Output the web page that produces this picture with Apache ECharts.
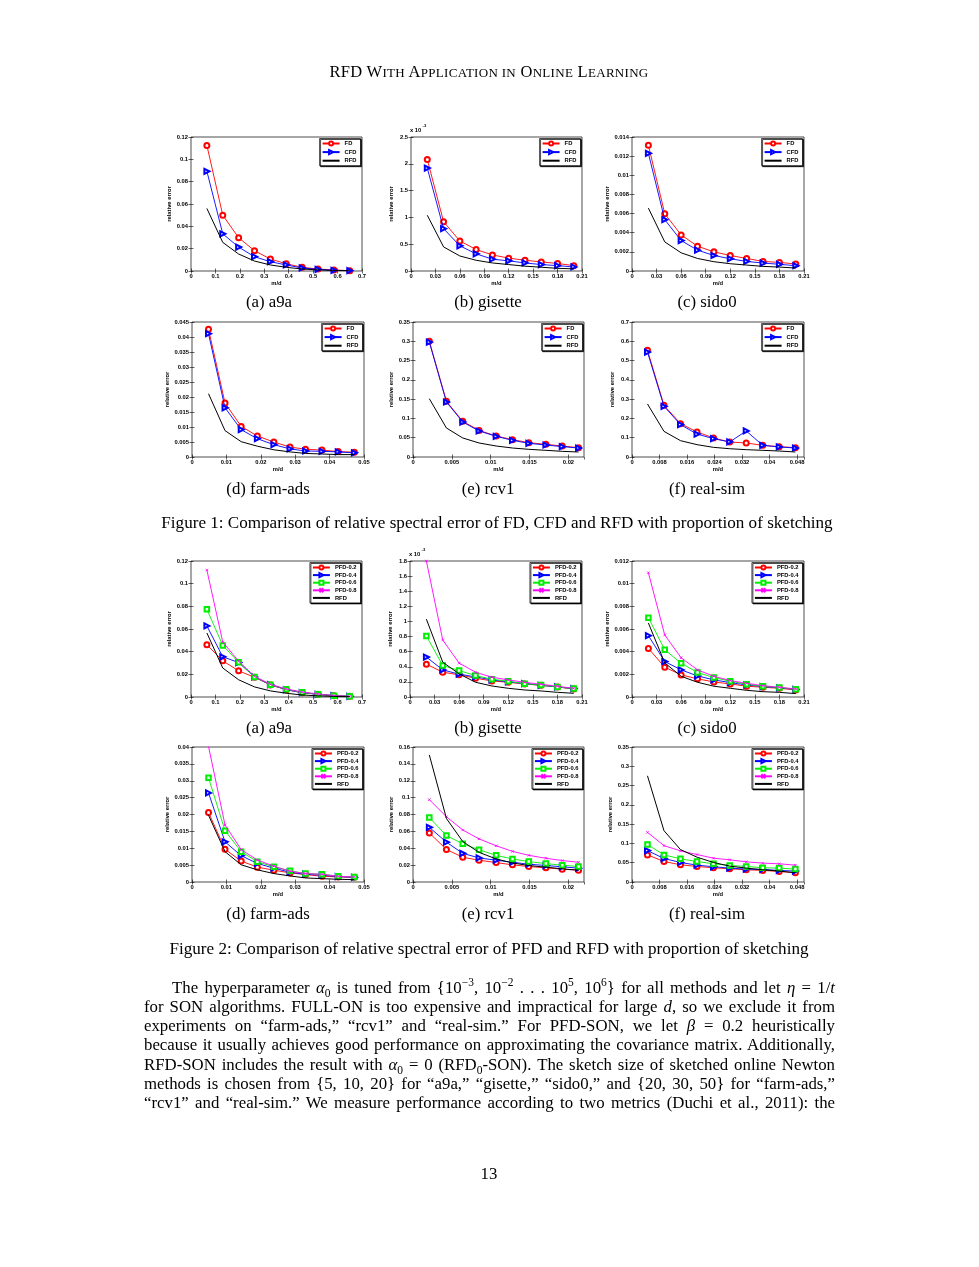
<!DOCTYPE html>
<html><head><meta charset="utf-8">
<script src="https://cdn.jsdelivr.net/npm/echarts@6/dist/echarts.min.js"></script>
<style>
body{margin:0;background:#fff;}
#page{position:relative;width:979px;height:1267px;overflow:hidden;font-family:"Liberation Serif","DejaVu Serif",serif;color:#000;background:#fff;}
#chart{position:absolute;left:0;top:0;width:979px;height:1267px;}
.t{position:absolute;white-space:nowrap;font-size:16.8px;line-height:20px;transform:translateX(-50%);}
.fc{font-size:17.1px;}
.ln{position:absolute;left:144px;font-size:16.8px;line-height:20px;white-space:nowrap;}
.sc{font-size:13px;}
sup,sub{font-size:11.5px;line-height:0;}
</style></head>
<body><div id="page">
<div id="chart"></div>
<div class="t" style="left:489px;top:62px;font-size:16.5px;letter-spacing:0.3px">RFD W<span class="sc">ITH</span> A<span class="sc">PPLICATION IN</span> O<span class="sc">NLINE</span> L<span class="sc">EARNING</span></div>
<div class="t" style="left:269px;top:292px">(a) a9a</div>
<div class="t" style="left:488px;top:292px">(b) gisette</div>
<div class="t" style="left:707px;top:292px">(c) sido0</div>
<div class="t" style="left:268px;top:479px">(d) farm-ads</div>
<div class="t" style="left:488px;top:479px">(e) rcv1</div>
<div class="t" style="left:707px;top:479px">(f) real-sim</div>
<div class="t fc" style="left:497px;top:513px">Figure 1: Comparison of relative spectral error of FD, CFD and RFD with proportion of sketching</div>
<div class="t" style="left:269px;top:718px">(a) a9a</div>
<div class="t" style="left:488px;top:718px">(b) gisette</div>
<div class="t" style="left:707px;top:718px">(c) sido0</div>
<div class="t" style="left:268px;top:904px">(d) farm-ads</div>
<div class="t" style="left:488px;top:904px">(e) rcv1</div>
<div class="t" style="left:707px;top:904px">(f) real-sim</div>
<div class="t fc" style="left:489px;top:939px">Figure 2: Comparison of relative spectral error of PFD and RFD with proportion of sketching</div>
<div class="ln" data-w="663" style="top:978px;left:172px"><span>The hyperparameter <i>α</i><sub>0</sub> is tuned from {10<sup>−3</sup>, 10<sup>−2</sup> . . . 10<sup>5</sup>, 10<sup>6</sup>} for all methods and let <i>η</i> = 1/<i>t</i></span></div>
<div class="ln" data-w="691" style="top:997px"><span>for SON algorithms. FULL-ON is too expensive and impractical for large <i>d</i>, so we exclude it from</span></div>
<div class="ln" data-w="691" style="top:1016px"><span>experiments on “farm-ads,” “rcv1” and “real-sim.” For PFD-SON, we let <i>β</i> = 0.2 heuristically</span></div>
<div class="ln" data-w="691" style="top:1035px"><span>because it usually achieves good performance on approximating the covariance matrix. Additionally,</span></div>
<div class="ln" data-w="691" style="top:1055px"><span>RFD-SON includes the result with <i>α</i><sub>0</sub> = 0 (RFD<sub>0</sub>-SON). The sketch size of sketched online Newton</span></div>
<div class="ln" data-w="691" style="top:1074px"><span>methods is chosen from {5, 10, 20} for “a9a,” “gisette,” “sido0,” and {20, 30, 50} for “farm-ads,”</span></div>
<div class="ln" data-w="691" style="top:1093px"><span>“rcv1” and “real-sim.” We measure performance according to two metrics (Duchi et al., 2011): the</span></div>
<div class="t" style="left:489px;top:1164px">13</div>
</div>
<script>
// ---------- x values (m/d) ----------
const x_a9a = [0.065,0.13,0.195,0.26,0.325,0.39,0.455,0.52,0.585,0.65];
const x_gisette = [0.02,0.04,0.06,0.08,0.10,0.12,0.14,0.16,0.18,0.20];
const x_sido0 = [0.02,0.04,0.06,0.08,0.10,0.12,0.14,0.16,0.18,0.20];
const x_farmads = [0.0048,0.0096,0.0143,0.019,0.0238,0.0285,0.033,0.0378,0.0425,0.0472];
const x_rcv1 = [0.0021,0.0043,0.0064,0.0085,0.0107,0.0128,0.0149,0.0171,0.0192,0.0213];
const x_realsim = [0.0045,0.0093,0.0141,0.0189,0.0237,0.0284,0.0332,0.038,0.0428,0.0475];

// ---------- Figure 1 ----------
const f1_a9a_FD  = [0.1125,0.0500,0.0298,0.0182,0.0107,0.0065,0.0033,0.0018,0.0009,0.0003];
const f1_a9a_CFD = [0.0893,0.0333,0.0214,0.0128,0.0083,0.0054,0.0027,0.0015,0.0006,0.0003];
const f1_a9a_RFD = [0.0560,0.0256,0.0152,0.0089,0.0054,0.0033,0.0018,0.0010,0.0005,0.0003];
// gisette values in units of 1e-3
const f1_gis_FD  = [2.08,0.92,0.56,0.40,0.30,0.24,0.20,0.17,0.14,0.10];
const f1_gis_CFD = [1.92,0.79,0.47,0.32,0.22,0.19,0.15,0.12,0.10,0.075];
const f1_gis_RFD = [1.04,0.45,0.28,0.20,0.15,0.12,0.09,0.07,0.05,0.04];
const f1_sido_FD  = [0.01314,0.00598,0.00377,0.00259,0.00200,0.00162,0.00131,0.00100,0.00090,0.00073];
const f1_sido_CFD = [0.0123,0.00536,0.00318,0.00218,0.00162,0.00128,0.00100,0.00083,0.00070,0.00055];
const f1_sido_RFD = [0.00657,0.00304,0.0019,0.00131,0.00097,0.00076,0.00062,0.00048,0.00041,0.00031];
const f1_farm_FD  = [0.0426,0.0180,0.0102,0.0070,0.0050,0.0033,0.0026,0.0023,0.0018,0.0016];
const f1_farm_CFD = [0.0411,0.0164,0.0091,0.0061,0.0041,0.0027,0.0020,0.0019,0.0017,0.0014];
const f1_farm_RFD = [0.0211,0.0088,0.0051,0.0036,0.0024,0.0017,0.0012,0.0010,0.0008,0.0008];
const f1_rcv_FD  = [0.2999,0.1443,0.0925,0.0690,0.0544,0.0450,0.0372,0.0328,0.0285,0.0242];
const f1_rcv_CFD = [0.2980,0.1426,0.0907,0.0674,0.0536,0.0432,0.0354,0.0311,0.0268,0.0233];
const f1_rcv_RFD = [0.1512,0.0752,0.0493,0.0363,0.0285,0.0233,0.0199,0.0173,0.0147,0.0130];
const f1_real_FD  = [0.553,0.268,0.173,0.130,0.0985,0.0778,0.0726,0.0605,0.0536,0.0484];
const f1_real_CFD = [0.544,0.263,0.168,0.119,0.095,0.078,0.135,0.0605,0.052,0.0467];
const f1_real_RFD = [0.275,0.133,0.0847,0.064,0.050,0.043,0.038,0.0346,0.031,0.026];

// ---------- Figure 2 ----------
const f2_a9a_P2 = [0.0461,0.0319,0.0231,0.0174,0.0106,0.0065,0.0038,0.0024,0.0012,0.0006];
const f2_a9a_P4 = [0.0627,0.0355,0.0304,0.0177,0.0109,0.0065,0.0038,0.0024,0.0012,0.0006];
const f2_a9a_P6 = [0.0774,0.0455,0.0307,0.0177,0.0109,0.0068,0.0041,0.0024,0.0012,0.0006];
const f2_a9a_P8 = [0.112,0.0485,0.0316,0.0183,0.0112,0.0071,0.0044,0.0027,0.0012,0.0006];
const f2_a9a_RFD = [0.0565,0.0256,0.0152,0.0089,0.0054,0.0033,0.0018,0.0010,0.0005,0.0003];
// gisette values in units of 1e-3
const f2_gis_P2 = [0.435,0.328,0.293,0.248,0.213,0.195,0.173,0.155,0.133,0.106];
const f2_gis_P4 = [0.528,0.359,0.302,0.266,0.226,0.200,0.177,0.155,0.133,0.111];
const f2_gis_P6 = [0.807,0.417,0.350,0.284,0.235,0.208,0.177,0.160,0.133,0.111];
const f2_gis_P8 = [1.80,0.754,0.448,0.328,0.262,0.226,0.195,0.169,0.142,0.115];
const f2_gis_RFD = [1.03,0.461,0.306,0.195,0.146,0.115,0.093,0.080,0.062,0.049];
const f2_sido_P2 = [0.00429,0.00263,0.00195,0.0016,0.00133,0.00115,0.00095,0.00086,0.00077,0.00062];
const f2_sido_P4 = [0.00541,0.00313,0.00239,0.00186,0.00151,0.00127,0.00106,0.00092,0.0008,0.00068];
const f2_sido_P6 = [0.0070,0.00417,0.00298,0.00216,0.00171,0.00139,0.00112,0.00095,0.00083,0.00068];
const f2_sido_P8 = [0.01096,0.00547,0.00346,0.00239,0.00183,0.00145,0.00121,0.0010,0.00086,0.00071];
const f2_sido_RFD = [0.00653,0.00301,0.00183,0.0013,0.00095,0.00077,0.00059,0.00047,0.00041,0.0003];
const f2_farm_P2 = [0.0206,0.0097,0.0062,0.0044,0.0035,0.0027,0.0022,0.0017,0.0015,0.0014];
const f2_farm_P4 = [0.0264,0.0119,0.0078,0.0055,0.0041,0.0029,0.0023,0.0020,0.0016,0.0014];
const f2_farm_P6 = [0.0309,0.0152,0.0090,0.0060,0.0045,0.0033,0.0025,0.0023,0.0017,0.0015];
const f2_farm_P8 = [0.0402,0.0169,0.0096,0.0065,0.0047,0.0032,0.0025,0.0023,0.0017,0.0015];
const f2_farm_RFD = [0.0198,0.0090,0.0051,0.0036,0.0025,0.0018,0.0012,0.0010,0.0008,0.0007];
const f2_rcv_P2 = [0.0581,0.0386,0.0293,0.0258,0.0230,0.0203,0.0183,0.0168,0.0152,0.0140];
const f2_rcv_P4 = [0.0648,0.0472,0.0340,0.0285,0.0258,0.0234,0.0211,0.0195,0.0180,0.0164];
const f2_rcv_P6 = [0.0765,0.0550,0.0453,0.0382,0.0316,0.0273,0.0242,0.0218,0.0199,0.0183];
const f2_rcv_P8 = [0.0976,0.0773,0.0617,0.0511,0.0429,0.0363,0.0316,0.0281,0.0254,0.0234];
const f2_rcv_RFD = [0.1506,0.0753,0.0480,0.0351,0.0273,0.0226,0.0195,0.0176,0.0156,0.0140];
const f2_real_P2 = [0.0703,0.0532,0.0446,0.0403,0.0369,0.0343,0.0317,0.0300,0.0274,0.0240];
const f2_real_P4 = [0.0815,0.0609,0.0506,0.0437,0.0395,0.0360,0.0334,0.0326,0.0300,0.0283];
const f2_real_P6 = [0.0970,0.0703,0.0600,0.0532,0.0472,0.0429,0.0403,0.0369,0.0360,0.0334];
const f2_real_P8 = [0.1286,0.0943,0.0806,0.0712,0.0617,0.0575,0.0523,0.0489,0.0472,0.0437];
const f2_real_RFD = [0.2753,0.1330,0.0840,0.0643,0.0506,0.0412,0.0360,0.0317,0.0283,0.0240];

const fig1Names = ['FD','CFD','RFD'];
const fig2Names = ['PFD-0.2','PFD-0.4','PFD-0.6','PFD-0.8','RFD'];

// ---------- styles ----------
const FONT = '"Liberation Sans", Arial, sans-serif';
const XSYM = 'path://M0,0L10,10M10,0L0,10';
const STYLE = {
  'FD':      {color:'#ff0000', symbol:'emptyCircle', size:5, rot:0},
  'CFD':     {color:'#0000ff', symbol:'emptyTriangle', size:5, rot:-90},
  'RFD':     {color:'#000000', symbol:'none', size:0, rot:0},
  'PFD-0.2': {color:'#ff0000', symbol:'emptyCircle', size:5, rot:0},
  'PFD-0.4': {color:'#0000ff', symbol:'emptyTriangle', size:5, rot:-90},
  'PFD-0.6': {color:'#00ee00', symbol:'emptyRect', size:4.5, rot:0},
  'PFD-0.8': {color:'#ff00ff', symbol:XSYM, size:2.5, rot:0}
};

const panels = [
  {left:191, top:137, w:171, h:134, xMax:0.7, xInt:0.1, yMax:0.12, yInt:0.02, x:x_a9a, names:fig1Names, ys:[f1_a9a_FD,f1_a9a_CFD,f1_a9a_RFD]},
  {left:411, top:137, w:171, h:134, xMax:0.21, xInt:0.03, yMax:2.5, yInt:0.5, x:x_gisette, names:fig1Names, ys:[f1_gis_FD,f1_gis_CFD,f1_gis_RFD], exp:'-3'},
  {left:632, top:137, w:172, h:134, xMax:0.21, xInt:0.03, yMax:0.014, yInt:0.002, x:x_sido0, names:fig1Names, ys:[f1_sido_FD,f1_sido_CFD,f1_sido_RFD]},
  {left:192, top:322, w:172, h:135, xMax:0.05, xInt:0.01, yMax:0.045, yInt:0.005, x:x_farmads, names:fig1Names, ys:[f1_farm_FD,f1_farm_CFD,f1_farm_RFD]},
  {left:413, top:322, w:171, h:135, xMax:0.022, xInt:0.005, yMax:0.35, yInt:0.05, x:x_rcv1, names:fig1Names, ys:[f1_rcv_FD,f1_rcv_CFD,f1_rcv_RFD]},
  {left:632, top:322, w:172, h:135, xMax:0.05, xInt:0.008, yMax:0.7, yInt:0.1, x:x_realsim, names:fig1Names, ys:[f1_real_FD,f1_real_CFD,f1_real_RFD]},
  {left:191, top:561, w:171, h:136, xMax:0.7, xInt:0.1, yMax:0.12, yInt:0.02, x:x_a9a, names:fig2Names, ys:[f2_a9a_P2,f2_a9a_P4,f2_a9a_P6,f2_a9a_P8,f2_a9a_RFD]},
  {left:410, top:561, w:172, h:136, xMax:0.21, xInt:0.03, yMax:1.8, yInt:0.2, x:x_gisette, names:fig2Names, ys:[f2_gis_P2,f2_gis_P4,f2_gis_P6,f2_gis_P8,f2_gis_RFD], exp:'-3'},
  {left:632, top:561, w:172, h:136, xMax:0.21, xInt:0.03, yMax:0.012, yInt:0.002, x:x_sido0, names:fig2Names, ys:[f2_sido_P2,f2_sido_P4,f2_sido_P6,f2_sido_P8,f2_sido_RFD]},
  {left:192, top:747, w:172, h:135, xMax:0.05, xInt:0.01, yMax:0.04, yInt:0.005, x:x_farmads, names:fig2Names, ys:[f2_farm_P2,f2_farm_P4,f2_farm_P6,f2_farm_P8,f2_farm_RFD]},
  {left:413, top:747, w:171, h:135, xMax:0.022, xInt:0.005, yMax:0.16, yInt:0.02, x:x_rcv1, names:fig2Names, ys:[f2_rcv_P2,f2_rcv_P4,f2_rcv_P6,f2_rcv_P8,f2_rcv_RFD]},
  {left:632, top:747, w:172, h:135, xMax:0.05, xInt:0.008, yMax:0.35, yInt:0.05, x:x_realsim, names:fig2Names, ys:[f2_real_P2,f2_real_P4,f2_real_P6,f2_real_P8,f2_real_RFD]}
];

function fmt(v){ return String(Math.round(v*1e6)/1e6); }
function onGrid(max, step){ const r = max/step; return Math.abs(r - Math.round(r)) < 1e-6; }

const option = {animation:false, backgroundColor:'transparent', grid:[], xAxis:[], yAxis:[], series:[], legend:[], graphic:[]};
const labelStyle = {fontSize:5.8, fontFamily:FONT, color:'#000', fontWeight:'bold'};
const tick = {show:true, inside:true, length:2.5, lineStyle:{color:'#000', width:0.6}};

panels.forEach((p, i) => {
  option.grid.push({left:p.left, top:p.top, width:p.w, height:p.h, show:true, borderColor:'#000', borderWidth:0.7, backgroundColor:'#fff', containLabel:false});
  const xi = option.xAxis.length, yi = option.yAxis.length;
  option.xAxis.push({type:'value', gridIndex:i, position:'bottom', min:0, max:p.xMax, interval:p.xInt,
    axisLine:{show:false}, axisTick:tick, splitLine:{show:false},
    axisLabel:{...labelStyle, margin:2.5, formatter:fmt, showMaxLabel:onGrid(p.xMax,p.xInt), showMinLabel:true},
    name:'m/d', nameLocation:'middle', nameGap:9, nameTextStyle:{...labelStyle}});
  option.xAxis.push({type:'value', gridIndex:i, position:'top', min:0, max:p.xMax, interval:p.xInt,
    axisLine:{show:false}, axisTick:tick, splitLine:{show:false}, axisLabel:{show:false}});
  option.yAxis.push({type:'value', gridIndex:i, position:'left', min:0, max:p.yMax, interval:p.yInt,
    axisLine:{show:false}, axisTick:tick, splitLine:{show:false},
    axisLabel:{...labelStyle, margin:3, formatter:fmt},
    name:'relative error', nameLocation:'middle', nameGap:17, nameRotate:90, nameTextStyle:{...labelStyle}});
  option.yAxis.push({type:'value', gridIndex:i, position:'right', min:0, max:p.yMax, interval:p.yInt,
    axisLine:{show:false}, axisTick:tick, splitLine:{show:false}, axisLabel:{show:false}});
  p.names.forEach((nm, k) => {
    const s = STYLE[nm];
    option.series.push({type:'line', name:nm, xAxisIndex:xi, yAxisIndex:yi,
      data:p.x.map((xv, j) => [xv, p.ys[k][j]]),
      symbol:s.symbol, symbolSize:s.size, symbolRotate:s.rot, showSymbol:s.symbol!=='none',
      lineStyle:{color:s.color, width:nm==='RFD'?1:0.9},
      itemStyle:{color:s.color, borderColor:s.color, borderWidth:0.8},
      emphasis:{disabled:true}, silent:true, z:2+k});
  });
  option.legend.push({orient:'vertical', right:979 - (p.left + p.w) + 1.5, top:p.top + 1.5,
    data:p.names.map(nm => nm === 'RFD' ? {name:nm, itemStyle:{color:'rgba(0,0,0,0)', borderColor:'rgba(0,0,0,0)', borderWidth:0}} : {name:nm}),
    itemWidth:17, itemHeight:5, itemGap:p.names.length>3?1.6:2.6, padding:[2,4,2,2],
    borderColor:'#000', borderWidth:0.7, backgroundColor:'#fff',
    shadowColor:'#000', shadowOffsetX:1, shadowOffsetY:1, shadowBlur:0,
    textStyle:{fontSize:5.8, fontFamily:FONT, color:'#000', fontWeight:'bold'}, selectedMode:false});
  if (p.exp) {
    option.graphic.push({type:'text', left:p.left - 1, top:p.top - 10, z:10,
      style:{text:'x 10', font:'bold 5.8px ' + FONT, fill:'#000'}});
    option.graphic.push({type:'text', left:p.left + 11.5, top:p.top - 13, z:10,
      style:{text:p.exp, font:'bold 4.2px ' + FONT, fill:'#000'}});
  }
});

const chart = echarts.init(document.getElementById('chart'), null, {renderer:'canvas'});
chart.setOption(option);

// justify each text line to its measured width
function fitLines(){
  document.querySelectorAll('.ln').forEach(el => {
    const span = el.querySelector('span');
    span.style.wordSpacing = '0px';
    const target = parseFloat(el.dataset.w);
    const w = span.getBoundingClientRect().width;
    const n = (span.textContent.match(/ /g) || []).length;
    if (n > 0) span.style.wordSpacing = ((target - w) / n) + 'px';
  });
}
fitLines();
if (document.fonts && document.fonts.ready) document.fonts.ready.then(fitLines);
</script>
</body></html>
